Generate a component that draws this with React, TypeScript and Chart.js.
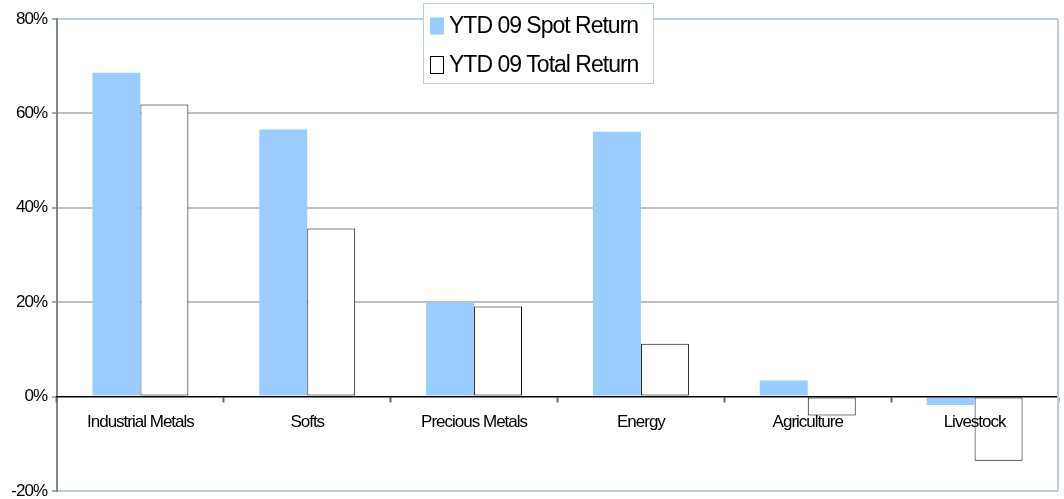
import { useEffect, useRef } from 'react';
import { Chart, registerables } from 'chart.js';

Chart.register(...registerables);

const categories = ['Industrial Metals', 'Softs', 'Precious Metals', 'Energy', 'Agriculture', 'Livestock'];
const spotReturn = [68.6, 56.6, 19.9, 56.1, 3.4, -1.8];
const totalReturn = [61.9, 35.6, 19.1, 11.2, -4.0, -13.6];
const seriesNames = ['YTD 09 Spot Return', 'YTD 09 Total Return'];
const yMin = -20;
const yMax = 80;
const yStep = 20;

const FONT = '"Liberation Sans", Arial, sans-serif';
const LIGHT_BLUE = '#b9cde5';
const SPOT_BLUE = '#99ccff';

const spacingPlugin = {
  id: 'spacing',
  beforeUpdate(c: any) {
    c.ctx.letterSpacing = '-1px';
  },
  beforeDraw(c: any) {
    c.ctx.letterSpacing = '-1px';
  },
};

const framePlugin = {
  id: 'frame',
  afterDraw(c: any) {
    const { ctx, chartArea } = c;
    ctx.save();
    ctx.strokeStyle = LIGHT_BLUE;
    ctx.lineWidth = 2;
    ctx.beginPath();
    ctx.moveTo(chartArea.right, chartArea.top);
    ctx.lineTo(chartArea.right, chartArea.bottom);
    ctx.stroke();

    // legend
    const bx = 423, by = 3, bw = 230, bh = 80;
    ctx.fillStyle = '#ffffff';
    ctx.fillRect(bx, by, bw, bh);
    ctx.strokeStyle = LIGHT_BLUE;
    ctx.lineWidth = 1;
    ctx.strokeRect(bx + 0.5, by + 0.5, bw, bh);
    const ds = c.data.datasets;
    const rows = [26, 65];
    ctx.letterSpacing = '-1px';
    ctx.font = '23px ' + FONT;
    ctx.textBaseline = 'middle';
    ctx.textAlign = 'left';
    ds.forEach((d: any, i: number) => {
      const cy = rows[i];
      ctx.fillStyle = d.backgroundColor;
      ctx.fillRect(430, cy - 8.5, 14, 17);
      if (d.borderWidth) {
        ctx.strokeStyle = d.borderColor;
        ctx.lineWidth = 1;
        ctx.strokeRect(430.5, cy - 8.5, 13, 17);
      }
      ctx.fillStyle = '#000';
      ctx.fillText(d.label, 449, cy + 1);
    });
    ctx.restore();
  },
};

export default function App() {
  const ref = useRef<HTMLCanvasElement | null>(null);
  useEffect(() => {
    if (!ref.current) return;
    const chart = new Chart(ref.current, {
      type: 'bar',
      data: {
        labels: categories,
        datasets: [
          {
            label: seriesNames[0],
            data: spotReturn,
            backgroundColor: SPOT_BLUE,
            borderWidth: 0,
            categoryPercentage: 0.575,
            barPercentage: 1,
          },
          {
            label: seriesNames[1],
            data: totalReturn,
            backgroundColor: '#ffffff',
            borderColor: '#000000',
            borderWidth: 1,
            borderSkipped: false,
            categoryPercentage: 0.575,
            barPercentage: 1,
          },
        ],
      },
      options: {
        animation: false,
        responsive: true,
        maintainAspectRatio: false,
        layout: { padding: { left: 0, right: 6, top: 19, bottom: 8 } },
        plugins: {
          legend: { display: false },
          tooltip: { enabled: false },
        },
        scales: {
          x: {
            position: { y: 0 } as any,
            offset: true,
            afterFit(s: any) {
              s.paddingLeft = 0;
              s.paddingRight = 0;
            },
            grid: {
              offset: true,
              drawOnChartArea: false,
              drawTicks: true,
              tickLength: 5,
              tickColor: '#666',
              tickWidth: 2,
              color: '#666',
              z: 1,
            },
            border: { display: true, color: '#000', width: 1.5, z: 1 },
            ticks: {
              color: '#000',
              font: { family: FONT, size: 17 },
              padding: 11,
              maxRotation: 0,
              autoSkip: false,
              z: 2,
            },
          },
          y: {
            min: yMin,
            max: yMax,
            afterFit(s: any) {
              s.width = 57;
              s.paddingTop = 0;
              s.paddingBottom = 0;
            },
            ticks: {
              stepSize: yStep,
              color: '#000',
              font: { family: FONT, size: 17 },
              padding: 5,
              callback: (v: any) => v + '%',
            },
            grid: {
              color: (ctx: any) => {
                const v = ctx.tick ? ctx.tick.value : null;
                if (v === yMax || v === yMin) return LIGHT_BLUE;
                if (v === 0) return 'rgba(0,0,0,0)';
                return '#c0c0c0';
              },
              lineWidth: 2,
              tickLength: 5,
              tickColor: '#555',
              tickWidth: 1,
            },
            border: { display: true, color: '#7d8896', width: 2 },
          },
        },
      },
      plugins: [spacingPlugin, framePlugin],
    });
    return () => chart.destroy();
  }, []);
  return (
    <div style={{ position: 'absolute', left: 0, top: 0, width: 1064, height: 499 }}>
      <canvas ref={ref} />
    </div>
  );
}
